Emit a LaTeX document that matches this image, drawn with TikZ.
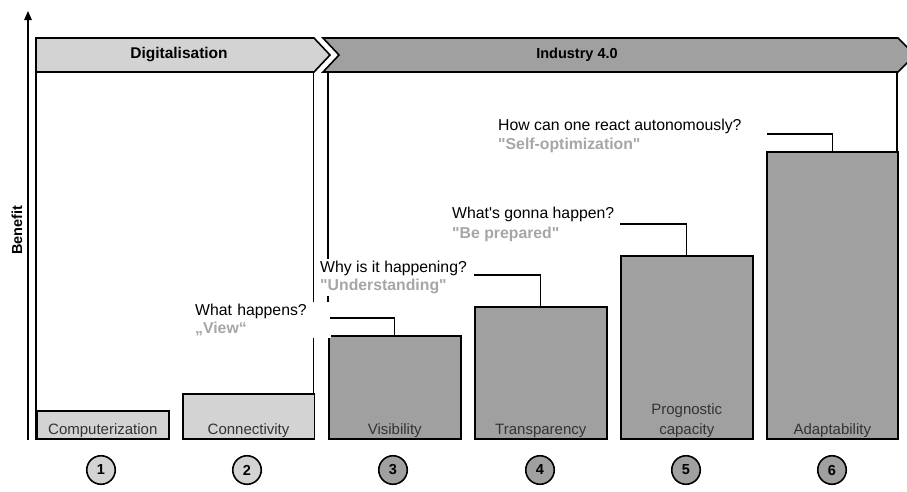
\documentclass[tikz,border=0pt]{standalone}
\usepackage{fontspec}
\setmainfont{Liberation Sans}[Ligatures=TeXOff]
\usetikzlibrary{arrows.meta}
\definecolor{lgray}{RGB}{211,211,211}
\definecolor{dgray}{RGB}{160,160,160}
\definecolor{tgray}{RGB}{166,166,166}
\definecolor{lab}{RGB}{51,51,51}
\tikzset{
  edge/.style={line width=1.6pt, draw=black},
  bar/.style={edge, anchor=south west, inner sep=0pt},
  barlab/.style={font=\fontsize{15}{17}\selectfont, text=lab, anchor=south, align=center, inner sep=0pt},
  num/.style={circle, edge, minimum size=28.5pt, inner sep=0pt, font=\fontsize{14.5}{16}\selectfont\bfseries},
  quest/.style={fill=white, anchor=north west, align=left, inner sep=2pt, font=\fontsize{15.8}{19}\selectfont},
  callout/.style={line width=1.3pt},
  head/.style={font=\fontsize{14.5}{16}\selectfont\bfseries, text=black}
}
\begin{document}
\begin{tikzpicture}[x=1pt,y=-1pt]
\clip (0,0) rectangle (907,491);
% axis
\coordinate (ax0) at (28,440);
\coordinate (ax1) at (28,11);
\draw[line width=1.3pt, -{Triangle[length=9pt,width=7.5pt]}] (ax0) -- (ax1);
\node[rotate=90, font=\fontsize{14.5}{16}\selectfont\bfseries] (benefit) at (17,230) {Benefit};
% chevrons
\draw[edge, fill=lgray] (36,38) -- (314,38) -- (330,55) -- (314,72) -- (36,72) -- cycle;
\node[head, font=\fontsize{15.5}{16}\selectfont\bfseries] (dig) at (179,55) {Digitalisation};
\draw[edge, fill=dgray] (323,38) -- (898,38) -- (915,55) -- (898,72) -- (323,72) -- (339,55) -- cycle;
\node[head] (ind) at (577,55) {Industry 4.0};
% frames
\draw[edge] (36,72) -- (36,440);
\draw[edge] (313.5,72) -- (313.5,395);
\draw[edge] (328,72) -- (328,337);
\draw[edge] (897,72) -- (897,153);
% bars
\node[bar, fill=lgray, minimum width=132pt, minimum height=28pt] (b1) at (36,440) {};
\node[bar, fill=lgray, minimum width=131.5pt, minimum height=45pt] (b2) at (182,440) {};
\node[bar, fill=dgray, minimum width=132pt, minimum height=103pt] (b3) at (328,440) {};
\node[bar, fill=dgray, minimum width=132pt, minimum height=132pt] (b4) at (474,440) {};
\node[bar, fill=dgray, minimum width=132pt, minimum height=183pt] (b5) at (620,440) {};
\node[bar, fill=dgray, minimum width=131pt, minimum height=287pt] (b6) at (766,440) {};
\node[barlab] (l1) at ([yshift=2pt]b1.south) {Computerization};
\node[barlab] (l2) at ([yshift=2pt]b2.south) {Connectivity};
\node[barlab] (l3) at ([yshift=2pt]b3.south) {Visibility};
\node[barlab] (l4) at ([yshift=2pt]b4.south) {Transparency};
\node[barlab, font=\fontsize{15}{20}\selectfont] (l5) at ([yshift=2pt]b5.south) {Prognostic\\capacity};
\node[barlab] (l6) at ([yshift=2pt]b6.south) {Adaptability};
% numbers
\node[num, fill=lgray] (n1) at (101,470) {1};
\node[num, fill=lgray] (n2) at (247,470) {2};
\node[num, fill=dgray] (n3) at (393,470) {3};
\node[num, fill=dgray] (n4) at (540,470) {4};
\node[num, fill=dgray] (n5) at (686,470) {5};
\node[num, fill=dgray] (n6) at (832,470) {6};
% questions
\node[quest, text width=134pt, font=\fontsize{15.8}{18}\selectfont] (q3) at (193,302) {What happens?\\{\color{tgray}\bfseries „View“}};
\node[quest, font=\fontsize{15.8}{17.5}\selectfont] (q4) at (318,259) {Why is it happening?\\{\color{tgray}\bfseries "Understanding"}};
\node[quest, font=\fontsize{15.8}{20}\selectfont] (q5) at (450,205) {What's gonna happen?\\{\color{tgray}\bfseries "Be prepared"}};
\node[quest] (q6) at (496,117) {How can one react autonomously?\\{\color{tgray}\bfseries "Self-optimization"}};
% callouts
\coordinate (c3) at (330,318);
\coordinate (c4) at (474,275);
\coordinate (c5) at (620,224);
\coordinate (c6) at (767,134);
\draw[callout] (c3) -| (b3.north);
\draw[callout] (c4) -| (b4.north);
\draw[callout] (c5) -| (b5.north);
\draw[callout] (c6) -| (b6.north);
\end{tikzpicture}
\end{document}
